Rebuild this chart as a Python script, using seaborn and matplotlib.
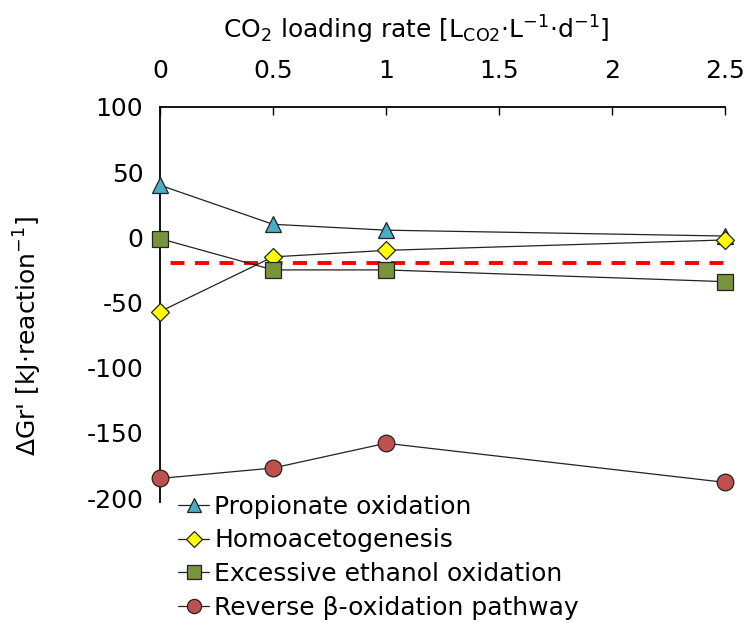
import matplotlib
matplotlib.use("Agg")
import matplotlib.pyplot as plt
import seaborn as sns
import pandas as pd

# ---- data ----
loading_rate = [0, 0.5, 1, 2.5]
propionate = [40, 10, 5.5, 1]
homoacetogenesis = [-57, -15, -10, -2]
ethanol = [-1, -25, -25, -34]
reverse_beta = [-185, -177, -158, -188]
threshold_x = [0, 2.5]
threshold_y = [-20, -20]
x_ticks = [0, 0.5, 1, 1.5, 2, 2.5]
x_tick_labels = ["0", "0.5", "1", "1.5", "2", "2.5"]
y_ticks = [100, 50, 0, -50, -100, -150, -200]

series_names = ["Propionate oxidation", "Homoacetogenesis",
                "Excessive ethanol oxidation", "Reverse β-oxidation pathway"]
series_values = [propionate, homoacetogenesis, ethanol, reverse_beta]
markers = ["^", "D", "s", "o"]
colors = ["#4BACC6", "#FFFF00", "#77933C", "#C0504D"]
msizes = [12, 9, 12, 12]

sns.set_theme(style="white")
plt.rcParams['font.family'] = ['DejaVu Sans']
plt.rcParams['mathtext.default'] = 'regular'
plt.rcParams['axes.unicode_minus'] = False

fig = plt.figure(figsize=(7.47, 6.23), dpi=100)
ax = fig.add_axes([160/747, 1-498/623, (725-160)/747, (498-107)/623])

# threshold line
sns.lineplot(x=threshold_x, y=threshold_y, ax=ax, color="#FF0000", linewidth=2.8,
             linestyle=(3.6, (3.6, 2.7)), zorder=2)

for name, vals, m, c, ms in zip(series_names, series_values, markers, colors, msizes):
    df = pd.DataFrame({"x": loading_rate, "y": vals})
    sns.lineplot(data=df, x="x", y="y", ax=ax, color="#222222", linewidth=0.9,
                 marker=m, markersize=ms, markerfacecolor=c, markeredgecolor="#222222",
                 markeredgewidth=0.9, zorder=3, label=name, clip_on=False)

ax.set_xlim(0, 2.5)
ax.set_ylim(-200, 100)
ax.xaxis.tick_top()
ax.xaxis.set_label_position("top")
ax.set_xticks(x_ticks)
ax.set_xticklabels(x_tick_labels)
ax.set_yticks(y_ticks)
ax.tick_params(axis="x", direction="in", length=6, width=1, colors="black",
               labelsize=18, pad=17, top=True, bottom=False)
ax.tick_params(axis="y", length=0, labelsize=18, pad=12, colors="black")

for side in ["right", "bottom"]:
    ax.spines[side].set_visible(False)
for side in ["top", "left"]:
    ax.spines[side].set_visible(True)
    ax.spines[side].set_color("black")
    ax.spines[side].set_linewidth(1.3)
ax.spines["left"].set_bounds(-203, 100)

ax.set_xlabel(r"CO$_2$ loading rate [L$_{\mathregular{CO2}}$$\cdot$L$^{\mathregular{-1}}$$\cdot$d$^{\mathregular{-1}}$]",
              fontsize=18, color="black")
ax.xaxis.set_label_coords(0.453, 1.175)
ax.set_ylabel(r"ΔGr' [kJ$\cdot$reaction$^{\mathregular{-1}}$]", fontsize=18, color="black")
ax.yaxis.set_label_coords(-0.205, 0.415)

leg = ax.legend(loc="upper left", bbox_to_anchor=(168/747, 1-485/623),
                bbox_transform=fig.transFigure, frameon=False, fontsize=18,
                handlelength=1.25, handletextpad=0.2, labelspacing=0.38,
                borderaxespad=0, markerscale=0.85)
for t in leg.get_texts():
    t.set_color("black")

fig.savefig("out.png", dpi=100, facecolor="white")
